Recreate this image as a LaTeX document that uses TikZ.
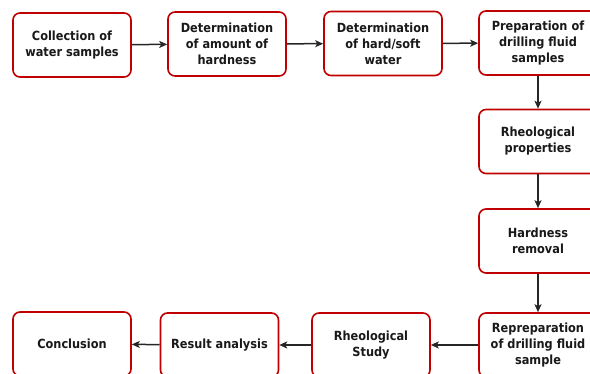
\documentclass[tikz,border=0pt]{standalone}
\usepackage{fontspec}
\setmainfont{DejaVu Sans}[FakeStretch=0.9]
\usetikzlibrary{arrows.meta}
\definecolor{boxred}{RGB}{192,0,0}
\tikzset{
  box/.style={draw=boxred, line width=1.6pt, rounded corners=7pt, fill=white,
    minimum width=118pt, minimum height=64pt, align=center, inner sep=2pt,
    font=\fontsize{12.6}{16}\selectfont\bfseries, text=black!90},
  conn/.style={-{Stealth[length=8pt,width=7pt,inset=2pt]}, line width=1.5pt, black!85}
}
\begin{document}
\begin{tikzpicture}[x=1pt,y=-1pt]
\useasboundingbox (0,0) rectangle (590,374);
\clip (0,0) rectangle (590,374);
\node[box] (a) at (72,45) {Collection of\\water samples};
\node[box] (b) at (227,44) {Determination\\of amount of\\hardness};
\node[box] (c) at (383,43.5) {Determination\\of hard/soft\\water};
\node[box] (d) at (538,43) {Preparation of\\drilling fluid\\samples};
\node[box] (e) at (538,141.5) {Rheological\\properties};
\node[box] (f) at (538,241) {Hardness\\removal};
\node[box] (g) at (538,345) {Repreparation\\of drilling fluid\\sample};
\node[box] (h) at (371,345) {Rheological\\Study};
\node[box] (i) at (219.5,345) {Result analysis};
\node[box] (j) at (72,344) {Conclusion};
\draw[conn] (a) -- (b);
\draw[conn] (b) -- (c);
\draw[conn] (c) -- (d);
\draw[conn] (d) -- (e);
\draw[conn] (e) -- (f);
\draw[conn] (f) -- (g);
\draw[conn] (g) -- (h);
\draw[conn] (h) -- (i);
\draw[conn] (i) -- (j);
\end{tikzpicture}
\end{document}
